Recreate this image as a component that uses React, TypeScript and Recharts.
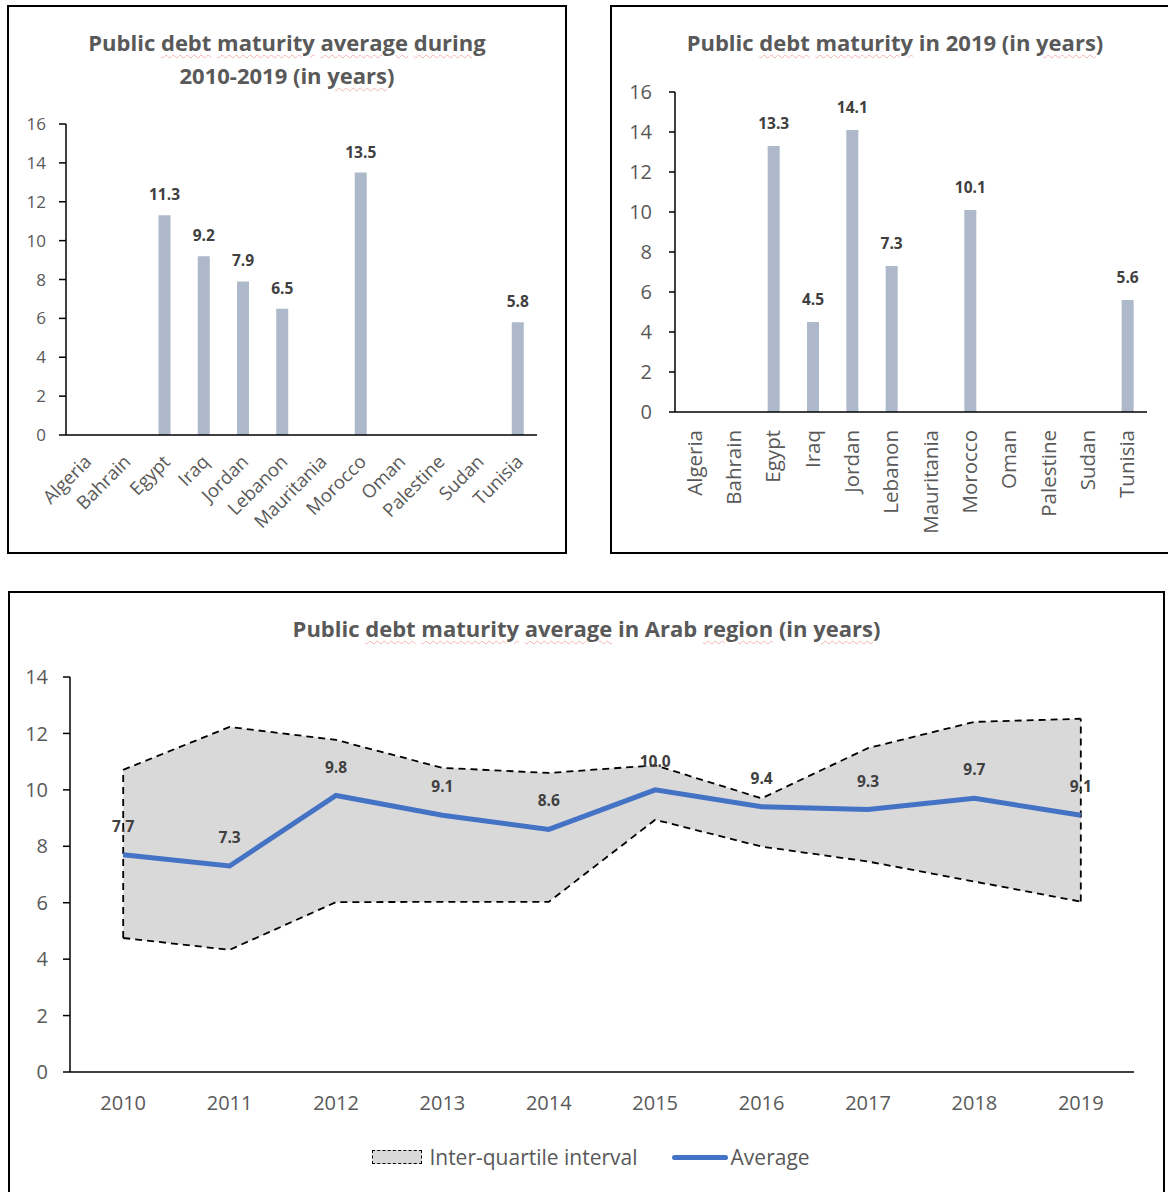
import React from 'react';
import {
  BarChart,
  Bar,
  XAxis,
  YAxis,
  LabelList,
  ComposedChart,
  Area,
  Line,
  ReferenceLine,
  Legend,
} from 'recharts';

// ---- Data ----
const countries = [
  'Algeria', 'Bahrain', 'Egypt', 'Iraq', 'Jordan', 'Lebanon',
  'Mauritania', 'Morocco', 'Oman', 'Palestine', 'Sudan', 'Tunisia',
];
const maturityAvg2010to2019: (number | null)[] = [
  null, null, 11.3, 9.2, 7.9, 6.5, null, 13.5, null, null, null, 5.8,
];
const maturity2019: (number | null)[] = [
  null, null, 13.3, 4.5, 14.1, 7.3, null, 10.1, null, null, null, 5.6,
];
const barTicks = [0, 2, 4, 6, 8, 10, 12, 14, 16];

const years = ['2010', '2011', '2012', '2013', '2014', '2015', '2016', '2017', '2018', '2019'];
const quartileLow = [4.75, 4.33, 6.02, 6.03, 6.03, 8.94, 7.99, 7.46, 6.75, 6.04];
const quartileHigh = [10.71, 12.23, 11.77, 10.78, 10.6, 10.87, 9.7, 11.48, 12.41, 12.52];
const regionAverage = [7.7, 7.3, 9.8, 9.1, 8.6, 10.0, 9.4, 9.3, 9.7, 9.1];
const lineTicks = [0, 2, 4, 6, 8, 10, 12, 14];

// ---- Styling ----
const FONT = '"Open Sans", Lato, sans-serif';
const GREY_TEXT = '#595959';
const LABEL_TEXT = '#404040';
const BAR_FILL = '#adb9ca';
const AVG_BLUE = '#4472c4';
const BAND_FILL = '#d9d9d9';
const DASH = '7 5';

const bars1 = countries.map((c, i) => ({ country: c, value: maturityAvg2010to2019[i] }));
const bars2 = countries.map((c, i) => ({ country: c, value: maturity2019[i] }));
const lineData = years.map((y, i) => ({
  year: y,
  low: quartileLow[i],
  high: quartileHigh[i],
  band: [quartileLow[i], quartileHigh[i]],
  avg: regionAverage[i],
}));

const Spell = ({ children }: { children: React.ReactNode }) => (
  <span
    style={{
      textDecorationLine: 'underline',
      textDecorationStyle: 'wavy',
      textDecorationColor: 'rgba(230,100,100,0.45)',
      textDecorationThickness: '1px',
      textUnderlineOffset: '3px',
    }}
  >
    {children}
  </span>
);

const titleStyle: React.CSSProperties = {
  position: 'absolute',
  fontFamily: FONT,
  fontWeight: 700,
  fontSize: 22,
  color: GREY_TEXT,
  textAlign: 'center',
  lineHeight: '33px',
  whiteSpace: 'nowrap',
};

const panelStyle: React.CSSProperties = {
  position: 'absolute',
  border: '2px solid #000',
  boxSizing: 'border-box',
  background: '#fff',
};

const barLabel = (offset: number, size: number) => (props: any) => {
  const { x, y, width, value } = props;
  if (value == null) return null;
  return (
    <text
      x={Number(x) + Number(width) / 2}
      y={Number(y) - offset}
      textAnchor="middle"
      fontFamily={FONT}
      fontWeight={700}
      fontSize={size}
      fill={LABEL_TEXT}
    >
      {Number(value).toFixed(1)}
    </text>
  );
};

const SlantTick = (props: any) => {
  const { x, y, payload } = props;
  return (
    <g transform={`translate(${x + 7},${y + 26})`}>
      <text
        transform="rotate(-45)"
        textAnchor="end"
        fontFamily={FONT}
        fontSize={18.5}
        fill={GREY_TEXT}
      >
        {payload.value}
      </text>
    </g>
  );
};

const UprightTick = (props: any) => {
  const { x, y, payload } = props;
  return (
    <g transform={`translate(${x + 7},${y + 16})`}>
      <text
        transform="rotate(-90)"
        textAnchor="end"
        fontFamily={FONT}
        fontSize={20.5}
        fill={GREY_TEXT}
      >
        {payload.value}
      </text>
    </g>
  );
};

const BandLegend = () => (
  <div
    style={{
      height: 30,
      width: 1168,
      display: 'flex',
      alignItems: 'center',
      justifyContent: 'center',
      paddingLeft: 14,
      boxSizing: 'border-box',
      fontFamily: FONT,
      fontSize: 21,
      color: GREY_TEXT,
    }}
  >
    <span
      style={{
        display: 'inline-block',
        width: 48,
        height: 12,
        background: BAND_FILL,
        border: '1.5px dashed #000',
        marginRight: 7,
      }}
    />
    <span>Inter-quartile interval</span>
    <span
      style={{
        display: 'inline-block',
        width: 56,
        height: 5,
        borderRadius: 3,
        background: AVG_BLUE,
        marginLeft: 34,
        marginRight: 3,
      }}
    />
    <span>Average</span>
  </div>
);

export default function App() {
  return (
    <div
      style={{
        position: 'absolute',
        left: 0,
        top: 0,
        width: 1168,
        height: 1192,
        overflow: 'hidden',
        background: '#fff',
      }}
    >
      {/* panel frames */}
      <div style={{ ...panelStyle, left: 7, top: 5, width: 560, height: 549 }} />
      <div style={{ ...panelStyle, left: 610, top: 5, width: 580, height: 549 }} />
      <div style={{ ...panelStyle, left: 8, top: 591, width: 1157, height: 640 }} />

      {/* titles */}
      <div style={{ ...titleStyle, left: 7, top: 26, width: 560 }}>
        Public <Spell>debt</Spell> <Spell>maturity</Spell> <Spell>average</Spell>{' '}
        <Spell>during</Spell>
        <br />
        2010-2019 (in <Spell>years</Spell>)
      </div>
      <div style={{ ...titleStyle, left: 610, top: 26, width: 570 }}>
        Public <Spell>debt</Spell> <Spell>maturity</Spell> in 2019 (in <Spell>years</Spell>)
      </div>
      <div style={{ ...titleStyle, left: 8, top: 612, width: 1157 }}>
        Public <Spell>debt</Spell> <Spell>maturity</Spell> <Spell>average</Spell> in Arab{' '}
        <Spell>region</Spell> (in <Spell>years</Spell>)
      </div>

      {/* average maturity by country, 2010-2019 */}
      <div style={{ position: 'absolute', left: 0, top: 0 }}>
        <BarChart
          width={580}
          height={560}
          data={bars1}
          margin={{ top: 124, right: 43, bottom: 5, left: 0 }}
          barSize={12}
        >
          <XAxis
            dataKey="country"
            interval={0}
            height={120}
            tickLine={false}
            tickSize={0}
            tick={<SlantTick />}
            axisLine={{ stroke: '#000', strokeWidth: 1.5 }}
          />
          <YAxis
            width={66}
            domain={[0, 16]}
            ticks={barTicks}
            interval={0}
            tickSize={7}
            tickMargin={13}
            tickLine={{ stroke: '#000', strokeWidth: 1.5 }}
            axisLine={{ stroke: '#000', strokeWidth: 1.5 }}
            tick={{ fontFamily: FONT, fontSize: 17, fill: GREY_TEXT }}
          />
          <Bar dataKey="value" fill={BAR_FILL} isAnimationActive={false}>
            <LabelList dataKey="value" content={barLabel(15, 15.5)} />
          </Bar>
        </BarChart>
      </div>

      {/* maturity by country, 2019 */}
      <div style={{ position: 'absolute', left: 600, top: 0 }}>
        <BarChart
          width={568}
          height={560}
          data={bars2}
          margin={{ top: 92, right: 21, bottom: 5, left: 0 }}
          barSize={12}
        >
          <XAxis
            dataKey="country"
            interval={0}
            height={143}
            tickLine={false}
            tickSize={0}
            tick={<UprightTick />}
            axisLine={{ stroke: '#000', strokeWidth: 1.5 }}
          />
          <YAxis
            width={75}
            domain={[0, 16]}
            ticks={barTicks}
            interval={0}
            tickSize={6}
            tickMargin={17}
            tickLine={{ stroke: '#000', strokeWidth: 1.5 }}
            axisLine={{ stroke: '#000', strokeWidth: 1.5 }}
            tick={{ fontFamily: FONT, fontSize: 20, fill: GREY_TEXT }}
          />
          <Bar dataKey="value" fill={BAR_FILL} isAnimationActive={false}>
            <LabelList dataKey="value" content={barLabel(17, 15.5)} />
          </Bar>
        </BarChart>
      </div>

      {/* regional average with inter-quartile band */}
      <div style={{ position: 'absolute', left: 0, top: 580 }}>
        <ComposedChart
          width={1168}
          height={612}
          data={lineData}
          margin={{ top: 97, right: 34, bottom: 20, left: 0 }}
        >
          <XAxis
            dataKey="year"
            scale="band"
            interval={0}
            height={70}
            tickLine={false}
            tickSize={0}
            tickMargin={24}
            axisLine={{ stroke: '#000', strokeWidth: 1.5 }}
            tick={{ fontFamily: FONT, fontSize: 20, fill: GREY_TEXT }}
          />
          <YAxis
            width={70}
            domain={[0, 14]}
            ticks={lineTicks}
            interval={0}
            tickSize={7}
            tickMargin={15}
            tickLine={{ stroke: '#000', strokeWidth: 1.5 }}
            axisLine={{ stroke: '#000', strokeWidth: 1.5 }}
            tick={{ fontFamily: FONT, fontSize: 20, fill: GREY_TEXT }}
          />
          <Legend verticalAlign="bottom" content={<BandLegend />} />
          <Area
            dataKey="band"
            type="linear"
            stroke="none"
            fill={BAND_FILL}
            fillOpacity={1}
            isAnimationActive={false}
            legendType="none"
          />
          <Line
            dataKey="high"
            type="linear"
            stroke="#000"
            strokeWidth={1.8}
            strokeDasharray={DASH}
            dot={false}
            activeDot={false}
            isAnimationActive={false}
            legendType="none"
          />
          <Line
            dataKey="low"
            type="linear"
            stroke="#000"
            strokeWidth={1.8}
            strokeDasharray={DASH}
            dot={false}
            activeDot={false}
            isAnimationActive={false}
            legendType="none"
          />
          <ReferenceLine
            segment={[
              { x: years[0], y: quartileLow[0] },
              { x: years[0], y: quartileHigh[0] },
            ]}
            stroke="#000"
            strokeWidth={1.8}
            strokeDasharray={DASH}
          />
          <ReferenceLine
            segment={[
              { x: years[years.length - 1], y: quartileLow[years.length - 1] },
              { x: years[years.length - 1], y: quartileHigh[years.length - 1] },
            ]}
            stroke="#000"
            strokeWidth={1.8}
            strokeDasharray={DASH}
          />
          <Line
            dataKey="avg"
            type="linear"
            stroke={AVG_BLUE}
            strokeWidth={5}
            dot={false}
            activeDot={false}
            isAnimationActive={false}
          >
            <LabelList
              dataKey="avg"
              position="top"
              offset={23}
              formatter={(v: any) => Number(v).toFixed(1)}
              style={{ fontFamily: FONT, fontWeight: 700, fontSize: 15.5, fill: LABEL_TEXT }}
            />
          </Line>
        </ComposedChart>
      </div>
    </div>
  );
}
